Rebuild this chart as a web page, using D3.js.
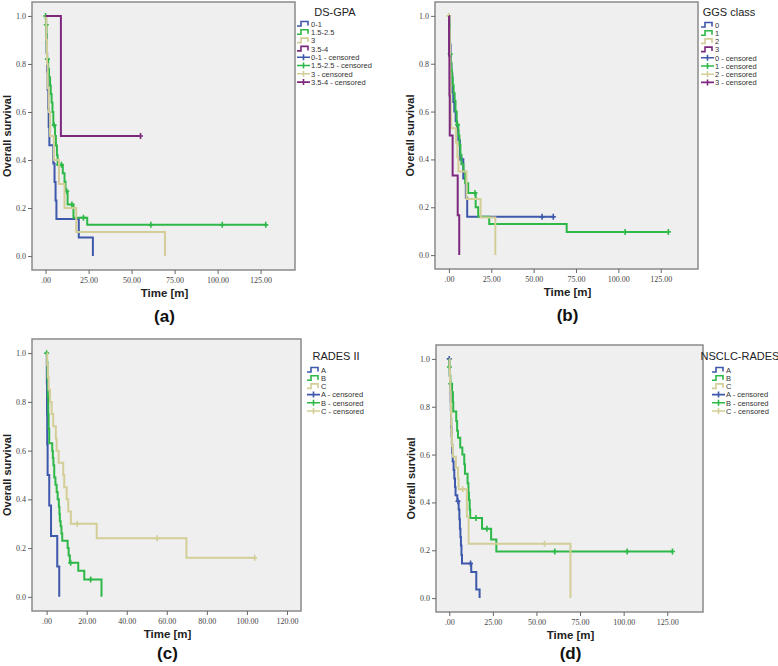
<!DOCTYPE html>
<html>
<head>
<meta charset="utf-8">
<script src="https://cdn.jsdelivr.net/npm/d3@7"></script>
<style>
  body { margin: 0; background: #fff; }
  svg { display: block; }
  .tick text { font-family: 'Liberation Serif', serif; font-size: 8px; fill: #444; }
  .tick line { stroke: #666; }
</style>
</head>
<body>
<svg id="chart" width="778" height="666"></svg>
<script>
// Kaplan-Meier curves: step times (months) and survival after each step
// (a) DS-GPA
const aGroups = ['0-1', '1.5-2.5', '3', '3.5-4'];
const aBlueT = [0.3, 0.6, 0.9, 1.2, 1.5, 1.8, 2.2, 4.5, 5.2, 5.8, 6.3, 19.3, 27.5];
const aBlueS = [0.923, 0.846, 0.769, 0.692, 0.615, 0.538, 0.462, 0.385, 0.308, 0.231, 0.154, 0.077, 0];
const aBlueC = [];
const aGreenT = [0.2, 0.5, 0.6, 0.7, 0.8, 1.5, 2.0, 2.6, 3.0, 3.5, 4.0, 4.5, 5.5, 6.0, 6.6, 7.0, 10.0, 11.0, 11.6, 12.8, 16.2, 24.2];
const aGreenS = [0.963, 0.926, 0.889, 0.852, 0.82, 0.78, 0.745, 0.71, 0.675, 0.64, 0.6, 0.545, 0.5, 0.46, 0.42, 0.38, 0.345, 0.31, 0.27, 0.215, 0.16, 0.13];
const aGreenC = [0, 0.4, 1.0, 5.0, 7.6, 9.2, 12.3, 15.3, 22.0, 61.2, 102.7, 128.0];
const aBeigeT = [0.4, 0.8, 1.2, 1.8, 2.6, 4.8, 7.8, 11.0, 17.8, 69.4];
const aBeigeS = [0.9, 0.8, 0.7, 0.6, 0.5, 0.4, 0.3, 0.2, 0.1, 0];
const aBeigeC = [];
const aPurpleT = [8.9];
const aPurpleS = [0.5];
const aPurpleC = [55.2];

// (b) GGS class
const bGroups = ['0', '1', '2', '3'];
const bBlueT = [0.3, 0.6, 1.0, 1.5, 2.0, 2.6, 3.2, 4.0, 4.8, 5.6, 6.5, 8.5, 10.0, 10.8];
const bBlueS = [0.92, 0.88, 0.8, 0.76, 0.68, 0.64, 0.6, 0.56, 0.52, 0.48, 0.4, 0.32, 0.24, 0.16];
const bBlueC = [7.5, 55.0, 61.6];
const bGreenT = [0.2, 0.4, 0.6, 1.0, 1.4, 1.8, 2.3, 2.8, 3.4, 3.9, 4.6, 5.6, 6.2, 6.8, 7.4, 8.6, 9.6, 11.4, 15.8, 17.3, 23.8, 69.5];
const bGreenS = [0.968, 0.903, 0.84, 0.806, 0.774, 0.742, 0.71, 0.677, 0.645, 0.6, 0.545, 0.5, 0.46, 0.42, 0.38, 0.35, 0.3, 0.26, 0.2, 0.16, 0.13, 0.097];
const bGreenC = [0.8, 5.1, 15.4, 104.0, 129.5];
const bBeigeT = [0.3, 0.5, 0.7, 0.8, 0.9, 1.0, 1.1, 1.3, 4.2, 5.0, 5.6, 10.4, 18.7, 27.4];
const bBeigeS = [0.94, 0.88, 0.82, 0.76, 0.71, 0.65, 0.59, 0.53, 0.47, 0.41, 0.35, 0.235, 0.157, 0];
const bBeigeC = [0];
const bPurpleT = [0.1, 0.3, 0.5, 2.2, 5.2, 6.1];
const bPurpleS = [0.833, 0.667, 0.5, 0.333, 0.167, 0];
const bPurpleC = [];

// (c) RADES II
const cGroups = ['A', 'B ', 'C'];
const cBlueT = [0.1, 0.2, 0.3, 0.5, 1.3, 2.2, 5.3, 6.3];
const cBlueS = [0.875, 0.75, 0.625, 0.5, 0.375, 0.25, 0.125, 0];
const cBlueC = [];
const cGreenT = [0.2, 0.4, 0.6, 0.8, 1.0, 1.3, 2.8, 3.1, 3.4, 3.8, 4.4, 5.0, 5.5, 6.1, 6.4, 6.6, 7.0, 7.4, 7.8, 10.5, 11.0, 11.6, 15.8, 18.8, 27.4];
const cGreenS = [0.964, 0.893, 0.821, 0.75, 0.69, 0.63, 0.6, 0.57, 0.54, 0.49, 0.46, 0.43, 0.4, 0.37, 0.34, 0.31, 0.29, 0.26, 0.23, 0.2, 0.17, 0.14, 0.107, 0.071, 0];
const cGreenC = [0, 12.0, 22.0];
const cBeigeT = [0.3, 0.6, 1.0, 1.7, 2.5, 3.3, 4.6, 5.0, 6.0, 8.3, 8.8, 10.0, 10.8, 12.1, 25.0, 69.8];
const cBeigeS = [0.95, 0.9, 0.85, 0.8, 0.75, 0.7, 0.65, 0.6, 0.55, 0.5, 0.45, 0.4, 0.35, 0.3, 0.24, 0.16];
const cBeigeC = [15.3, 55.2, 103.9];

// (d) NSCLC-RADES
const dGroups = ['A', 'B', 'C'];
const dBlueT = [0.1, 0.3, 0.5, 0.7, 0.8, 0.9, 1.0, 1.1, 1.3, 1.5, 1.7, 2.0, 2.5, 2.9, 3.3, 3.6, 4.6, 5.4, 5.8, 6.1, 6.4, 6.7, 7.0, 7.3, 12.6, 15.5, 17.4];
const dBlueS = [0.964, 0.929, 0.893, 0.857, 0.821, 0.786, 0.75, 0.714, 0.679, 0.643, 0.607, 0.571, 0.536, 0.5, 0.464, 0.43, 0.405, 0.37, 0.33, 0.29, 0.255, 0.22, 0.18, 0.145, 0.109, 0.036, 0];
const dBlueC = [0, 5.0, 12.2];
const dGreenT = [0.05, 0.3, 0.6, 1.6, 2.1, 2.3, 4.0, 4.5, 5.0, 6.3, 7.5, 8.6, 9.0, 10.5, 11.0, 11.3, 11.7, 12.0, 18.8, 24.0, 27.0];
const dGreenS = [0.966, 0.931, 0.896, 0.86, 0.82, 0.78, 0.74, 0.7, 0.67, 0.63, 0.6, 0.56, 0.52, 0.48, 0.44, 0.41, 0.37, 0.335, 0.29, 0.245, 0.195];
const dGreenC = [0.1, 0.8, 15.3, 21.6, 60.5, 102.0, 128.0];
const dBeigeT = [0.2, 0.4, 0.6, 0.8, 1.0, 1.1, 1.3, 1.6, 2.1, 3.8, 5.0, 5.4, 10.1, 11.1, 69.5];
const dBeigeS = [0.955, 0.909, 0.864, 0.818, 0.773, 0.727, 0.682, 0.636, 0.591, 0.545, 0.5, 0.455, 0.341, 0.227, 0];
const dBeigeC = [7.7, 54.6];

const xTicks125 = [0, 25, 50, 75, 100, 125];
const xTicks120 = [0, 20, 40, 60, 80, 100, 120];
const yTicks = [0, 0.2, 0.4, 0.6, 0.8, 1.0];

const colors = ['#3e58ac', '#2eb848', '#d3ce97', '#7c287d'];

function curve(T, S, C) {
  return { T, S, C };
}

const panels = [
  { title: 'DS-GPA', letter: '(a)', groups: aGroups,
    curves: [curve(aBlueT, aBlueS, aBlueC), curve(aGreenT, aGreenS, aGreenC), curve(aBeigeT, aBeigeS, aBeigeC), curve(aPurpleT, aPurpleS, aPurpleC)],
    box: { x: 32, y: 2, w: 263, h: 268 }, xDomain: [-7.9, 145], xTicks: xTicks125,
    legend: { x: 297, ty: 12, tx: 335, y0: 24, dy: 8.3 } },
  { title: 'GGS class', letter: '(b)', groups: bGroups,
    curves: [curve(bBlueT, bBlueS, bBlueC), curve(bGreenT, bGreenS, bGreenC), curve(bBeigeT, bBeigeS, bBeigeC), curve(bPurpleT, bPurpleS, bPurpleC)],
    box: { x: 435, y: 2, w: 263, h: 267 }, xDomain: [-8.2, 147], xTicks: xTicks125,
    legend: { x: 701, ty: 12, tx: 729, y0: 25, dy: 8.2 } },
  { title: 'RADES II', letter: '(c)', groups: cGroups,
    curves: [curve(cBlueT, cBlueS, cBlueC), curve(cGreenT, cGreenS, cGreenC), curve(cBeigeT, cBeigeS, cBeigeC)],
    box: { x: 32, y: 339, w: 269, h: 272 }, xDomain: [-7.3, 127], xTicks: xTicks120,
    legend: { x: 307, ty: 356, tx: 336, y0: 370, dy: 8.2 } },
  { title: 'NSCLC-RADES', letter: '(d)', groups: dGroups,
    curves: [curve(dBlueT, dBlueS, dBlueC), curve(dGreenT, dGreenS, dGreenC), curve(dBeigeT, dBeigeS, dBeigeC)],
    box: { x: 436, y: 345, w: 267, h: 267 }, xDomain: [-7.6, 145.5], xTicks: xTicks125,
    legend: { x: 712, ty: 356, tx: 740, y0: 370, dy: 8.2 } }
];

const svg = d3.select('#chart');

// survival value of a step curve at time t
function survAt(c, t) {
  let s = 1;
  c.T.forEach((tt, i) => { if (tt <= t) s = c.S[i]; });
  return s;
}

panels.forEach(p => {
  const b = p.box;
  const g = svg.append('g');

  const x = d3.scaleLinear().domain(p.xDomain).range([b.x, b.x + b.w]);
  const y = d3.scaleLinear().domain([-0.058, 1.058]).range([b.y + b.h, b.y]);

  g.append('rect')
    .attr('x', b.x).attr('y', b.y).attr('width', b.w).attr('height', b.h)
    .attr('fill', '#efefef')
    .attr('stroke', '#8a8a8a')
    .attr('stroke-width', 1.5);

  // Axes
  const yAxis = g.append('g')
    .attr('transform', `translate(${b.x},0)`)
    .call(d3.axisLeft(y).tickValues(yTicks).tickFormat(d3.format('.1f')).tickSize(4).tickPadding(2));
  yAxis.select('.domain').remove();

  const xAxis = g.append('g')
    .attr('transform', `translate(0,${b.y + b.h})`)
    .call(d3.axisBottom(x).tickValues(p.xTicks)
      .tickFormat(d => d === 0 ? '.00' : d3.format('.2f')(d)).tickSize(4).tickPadding(3));
  xAxis.select('.domain').remove();

  // Curves
  const line = d3.line().x(d => x(d[0])).y(d => y(d[1])).curve(d3.curveStepAfter);

  p.curves.forEach((c, i) => {
    const pts = [[0, 1]];
    c.T.forEach((t, j) => pts.push([t, c.S[j]]));
    const lastT = d3.max([d3.max(c.T), d3.max(c.C) || 0]);
    pts.push([lastT, c.S[c.S.length - 1]]);

    g.append('path')
      .attr('d', line(pts))
      .attr('fill', 'none')
      .attr('stroke', colors[i])
      .attr('stroke-width', 2);

    g.selectAll(null)
      .data(c.C)
      .enter()
      .append('path')
      .attr('d', t => {
        const cx = x(t), cy = y(survAt(c, t));
        return `M${cx - 2.5},${cy}H${cx + 2.5}M${cx},${cy - 3}V${cy + 3}`;
      })
      .attr('stroke', colors[i])
      .attr('stroke-width', 1.6);
  });

  // Axis titles
  g.append('text')
    .attr('x', b.x + b.w / 2 + 1)
    .attr('y', b.y + b.h + 27)
    .attr('text-anchor', 'middle')
    .attr('font-family', 'Liberation Sans, Arial, sans-serif')
    .attr('font-weight', 'bold')
    .attr('font-size', 11.5)
    .attr('fill', '#222')
    .text('Time [m]');

  g.append('text')
    .attr('transform', `translate(${b.x - 21},${b.y + b.h / 2}) rotate(-90)`)
    .attr('text-anchor', 'middle')
    .attr('font-family', 'Liberation Sans, Arial, sans-serif')
    .attr('font-weight', 'bold')
    .attr('font-size', 11)
    .attr('fill', '#222')
    .text('Overall survival');

  g.append('text')
    .attr('x', b.x + b.w / 2 + 1)
    .attr('y', Math.min(b.y + b.h + 52, 659))
    .attr('text-anchor', 'middle')
    .attr('font-family', 'Liberation Sans, Arial, sans-serif')
    .attr('font-weight', 'bold')
    .attr('font-size', 17)
    .attr('fill', '#111')
    .text(p.letter);

  // Legend
  const L = p.legend;
  g.append('text')
    .attr('x', L.tx).attr('y', L.ty + 4)
    .attr('text-anchor', 'middle')
    .attr('font-family', 'Liberation Sans, Arial, sans-serif')
    .attr('font-size', 11)
    .attr('fill', '#222')
    .text(p.title);

  const items = p.groups.map((name, i) => ({ name, i, censored: false }))
    .concat(p.groups.map((name, i) => ({ name: name + ' - censored', i, censored: true })));

  const item = g.selectAll(null)
    .data(items)
    .enter()
    .append('g')
    .attr('transform', (d, k) => `translate(${L.x},${L.y0 + k * L.dy})`);

  item.append('path')
    .attr('d', d => d.censored ? 'M0,0H13M6.5,-3V3' : 'M0,2H4V-2.5H11V1.5')
    .attr('fill', 'none')
    .attr('stroke', d => colors[d.i])
    .attr('stroke-width', 1.6);

  item.append('text')
    .attr('x', 14)
    .attr('y', 2.7)
    .attr('font-family', 'Liberation Sans, Arial, sans-serif')
    .attr('font-size', 7.5)
    .attr('fill', '#333')
    .text(d => d.name);
});
</script>
</body>
</html>
